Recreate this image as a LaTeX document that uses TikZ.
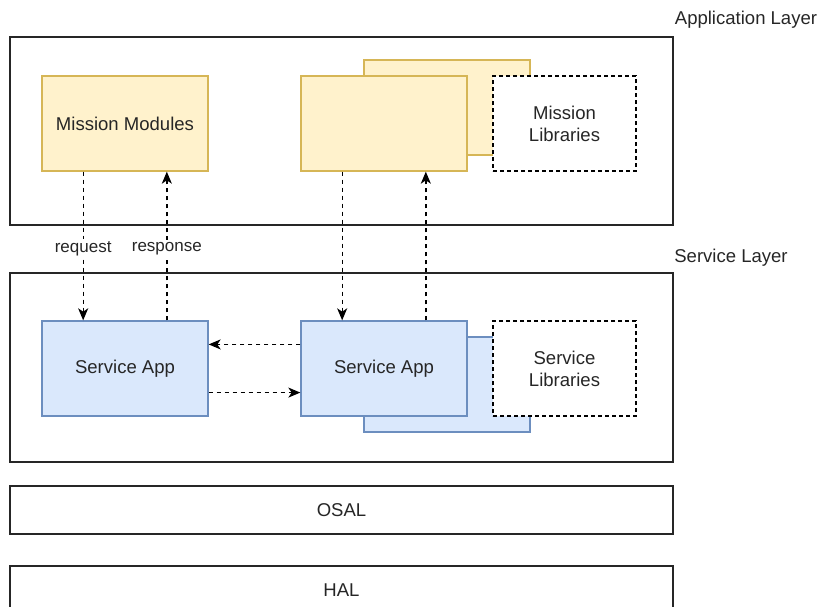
\documentclass[tikz,border=0pt]{standalone}
\usepackage{fontspec}
\setmainfont{Liberation Sans}
\usetikzlibrary{arrows.meta,fit,calc}
\definecolor{yfill}{HTML}{FFF2CC}
\definecolor{ydraw}{HTML}{D6B656}
\definecolor{bfill}{HTML}{DAE8FC}
\definecolor{bdraw}{HTML}{6C8EBF}
\definecolor{txt}{HTML}{262626}

\begin{document}
\begin{tikzpicture}[x=0.75pt,y=-0.75pt,
  every node/.style={font=\fontsize{13.9}{16.5}\selectfont, text=txt},
  box/.style={draw, inner sep=0pt, line width=1pt},
  layer/.style={box, draw=black!85, fill=white},
  ybox/.style={box, fill=yfill, draw=ydraw},
  bbox/.style={box, fill=bfill, draw=bdraw},
  libbox/.style={box, fill=white, draw=black, dash pattern=on 3pt off 2.25pt},
  caption/.style={align=center, inner sep=0pt},
  flow/.style={draw=black, line width=1pt, dash pattern=on 3pt off 3pt,
    -{Stealth[length=9pt,width=7.5pt,inset=2.5pt]}},
  lbl/.style={fill=white, inner sep=1.5pt, yshift=-2pt,
    font=\fontsize{12.75}{15}\selectfont}
]
\useasboundingbox (0,0) rectangle (819,607);
\clip (0,0) rectangle (819,607);

% layer frames
\node[layer, fit={(10,37) (673,225)}] (applayer) {};
\node[layer, fit={(10,273) (673,462)}] (svclayer) {};
\node[layer, fit={(10,486) (673,534)}] (osal) {};
\node[caption] (osaltxt) at (osal.center) {OSAL};
\node[layer, fit={(10,566) (673,614)}] (hal) {};
\node[caption] (haltxt) at (hal.center) {HAL};

\node (applbl) at (746,20) {Application Layer};
\node (svclbl) at (731,258) {Service Layer};

% application layer
\node[ybox, fit={(42,76) (208,171)}] (mm) {};
\node[caption] (mmtxt) at (mm.center) {Mission Modules};
\node[ybox, fit={(364,60) (530,155)}] (mmback) {};
\node[ybox, fit={(301,76) (467,171)}] (mmfront) {};
\node[libbox, fit={(493,76) (636,171)}] (mlib) {};
\node[caption] (mlibtxt) at (mlib.center) {Mission\\Libraries};

% service layer
\node[bbox, fit={(42,321) (208,416)}] (sa1) {};
\node[caption] (sa1txt) at (sa1.center) {Service App};
\node[bbox, fit={(364,337) (530,432)}] (saback) {};
\node[bbox, fit={(301,321) (467,416)}] (sa2) {};
\node[caption] (sa2txt) at (sa2.center) {Service App};
\node[libbox, fit={(493,321) (636,416)}] (slib) {};
\node[caption] (slibtxt) at (slib.center) {Service\\Libraries};

% request / response flows
\draw[flow] ($(mm.south west)!0.25!(mm.south east)$) --
  node[lbl] (reqlbl) {request} ($(sa1.north west)!0.25!(sa1.north east)$);
\draw[flow] ($(sa1.north west)!0.75!(sa1.north east)$) --
  node[lbl] (reslbl) {response} ($(mm.south west)!0.75!(mm.south east)$);
\draw[flow] ($(mmfront.south west)!0.25!(mmfront.south east)$) --
  ($(sa2.north west)!0.25!(sa2.north east)$);
\draw[flow] ($(sa2.north west)!0.75!(sa2.north east)$) --
  ($(mmfront.south west)!0.75!(mmfront.south east)$);

% service-to-service flows
\draw[flow] ($(sa2.north west)!0.25!(sa2.south west)$) --
  ($(sa1.north east)!0.25!(sa1.south east)$);
\draw[flow] ($(sa1.north east)!0.75!(sa1.south east)$) --
  ($(sa2.north west)!0.75!(sa2.south west)$);
\end{tikzpicture}
\end{document}
